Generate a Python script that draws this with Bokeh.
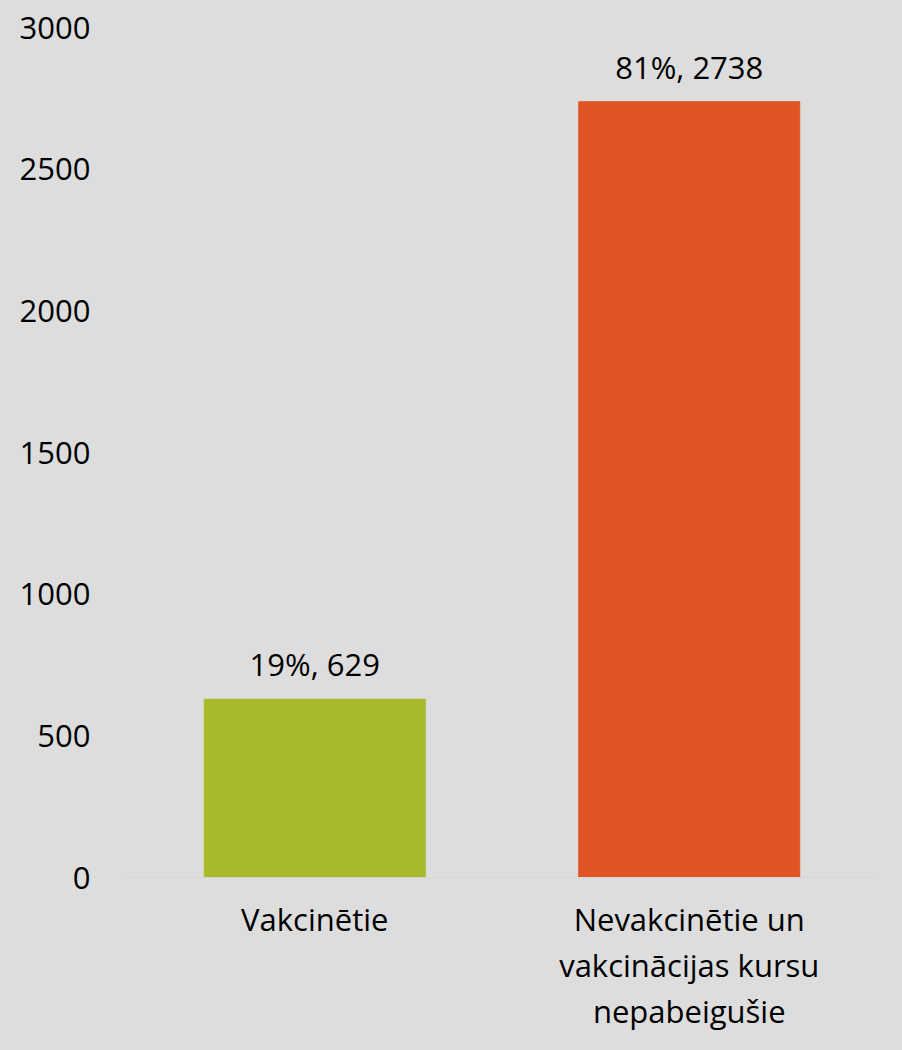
from bokeh.plotting import figure
from bokeh.models import ColumnDataSource, FixedTicker, Range1d, FactorRange
from bokeh.embed import file_html
from bokeh.resources import INLINE
from bokeh.core.properties import value

categories = ["Vakcinētie", "Nevakcinētie un\nvakcinācijas kursu\nnepabeigušie"]
counts = [629, 2738]
shares = ["19%", "81%"]
colors = ["#a8b92a", "#e05426"]
labels = [f"{s}, {c}" for s, c in zip(shares, counts)]
y_ticks = [0, 500, 1000, 1500, 2000, 2500, 3000]

src = ColumnDataSource(dict(cat=categories, val=counts, col=colors, lab=labels))

BG = "#dddddd"
FONT = "Open Sans"
FS = "31px"

p = figure(x_range=FactorRange(*categories), y_range=Range1d(0, 3000),
           width=886, height=1034, output_backend="svg", toolbar_location=None,
           background_fill_color=BG, background_fill_alpha=0, border_fill_color=BG,
           outline_line_color=None,
           min_border_left=127, min_border_right=10, min_border_top=27, min_border_bottom=156)

p.vbar(x="cat", top="val", width=0.59, color="col", source=src)
p.text(x="cat", y="val", text="lab", source=src, text_align="center", text_baseline="bottom",
       y_offset=-14, text_font=value(FONT), text_font_size=FS, text_color="#000000")

p.xgrid.grid_line_color = None
p.ygrid.grid_line_color = None

p.yaxis.ticker = FixedTicker(ticks=y_ticks)
p.yaxis.axis_line_color = None
p.yaxis.major_tick_line_color = None
p.yaxis.minor_tick_line_color = None
p.yaxis.major_tick_out = 0
p.yaxis.major_label_standoff = 37
p.yaxis.major_label_text_font = FONT
p.yaxis.major_label_text_font_size = FS
p.yaxis.major_label_text_color = "#000000"

p.xaxis.axis_line_color = "#d6d6d6"
p.xaxis.axis_line_width = 1
p.xaxis.major_tick_line_color = None
p.xaxis.major_tick_out = 0
p.xaxis.major_label_standoff = 20
p.xaxis.major_label_text_font = FONT
p.xaxis.major_label_text_font_size = FS
p.xaxis.major_label_text_color = "#000000"
p.xaxis.major_label_text_line_height = 1.1

html = file_html(p, INLINE)
html = html.replace("<head>", "<head><style>html,body{background:#dddddd;}</style>", 1)
open("out.html", "w").write(html)
